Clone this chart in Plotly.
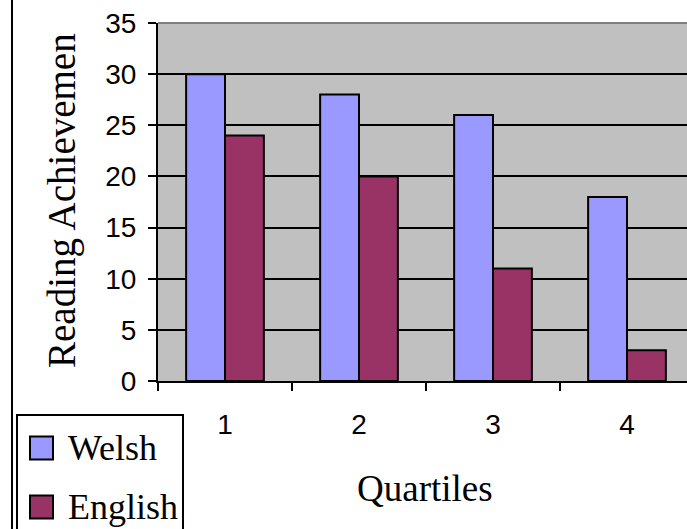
import plotly.graph_objects as go

# Reading achievement by quartile for two language groups
quartiles = ["1", "2", "3", "4"]
welsh = [30, 28, 26, 18]
english = [24, 20, 11, 3]
series_names = ["Welsh", "English"]
series_colors = ["#9999FF", "#993366"]
y_ticks = [0, 5, 10, 15, 20, 25, 30, 35]

W, H = 687, 529
L, R, T, B = 158, 0, 23, 148
PW, PH = W - L - R, H - T - B


def xp(px):
    return (px - L) / PW


def yp(py):
    return (H - B - py) / PH


SERIF = "Liberation Serif, Times New Roman, serif"
SANS = "Liberation Sans, Arial, sans-serif"

fig = go.Figure()
for name, vals, col in zip(series_names, [welsh, english], series_colors):
    fig.add_trace(go.Bar(
        x=quartiles, y=vals, name=name,
        marker=dict(color=col, line=dict(color="black", width=2)),
        showlegend=False,
    ))

fig.update_layout(
    width=W, height=H,
    margin=dict(l=L, r=R, t=T, b=B),
    paper_bgcolor="white",
    plot_bgcolor="#C0C0C0",
    barmode="group",
    bargap=0.42,
    bargroupgap=0,
    xaxis=dict(
        type="category",
        range=[-0.5, -0.5 + PW / 134.0],
        tickson="boundaries",
        ticks="outside", ticklen=8, tickwidth=2, tickcolor="black",
        showgrid=False, showline=True, linecolor="black", linewidth=2,
        tickfont=dict(family=SANS, size=28, color="black"),
        ticklabelstandoff=17,
    ),
    yaxis=dict(
        range=[0, 35],
        tickvals=y_ticks,
        ticks="outside", ticklen=8, tickwidth=2, tickcolor="black",
        showgrid=True, gridcolor="black", gridwidth=2,
        zeroline=False,
        showline=True, linecolor="black", linewidth=2,
        tickfont=dict(family=SANS, size=28, color="black"),
        ticklabelstandoff=6,
    ),
)

shapes = [
    # top border of plot area
    dict(type="line", xref="paper", yref="paper", x0=0, x1=1, y0=1, y1=1,
         line=dict(color="#808080", width=2)),
    # left frame line of the chart
    dict(type="line", xref="paper", yref="paper", x0=xp(12), x1=xp(12),
         y0=yp(-5), y1=yp(540), line=dict(color="black", width=2)),
    # legend box
    dict(type="rect", xref="paper", yref="paper", x0=xp(17), x1=xp(183),
         y0=yp(415), y1=yp(540), line=dict(color="black", width=2),
         fillcolor="white"),
]
annotations = []
legend_rows = [448, 507]
for name, col, cy in zip(series_names, series_colors, legend_rows):
    shapes.append(dict(type="rect", xref="paper", yref="paper",
                       x0=xp(30), x1=xp(53), y0=yp(cy - 11.5), y1=yp(cy + 11.5),
                       line=dict(color="black", width=2), fillcolor=col))
    annotations.append(dict(text=name, xref="paper", yref="paper",
                            x=xp(66), y=yp(cy), xanchor="left", yanchor="middle",
                            showarrow=False,
                            font=dict(family=SERIF, size=36, color="black")))

annotations.append(dict(text="Quartiles", xref="paper", yref="paper",
                        x=xp(425), y=yp(488), xanchor="center", yanchor="middle",
                        showarrow=False,
                        font=dict(family=SERIF, size=37, color="black")))
annotations.append(dict(text="Reading Achievemen", xref="paper", yref="paper",
                        x=xp(62), y=yp(201), xanchor="center", yanchor="middle",
                        textangle=-90, showarrow=False,
                        font=dict(family=SERIF, size=39, color="black")))

fig.update_layout(shapes=shapes, annotations=annotations)
fig.write_html("out.html")
